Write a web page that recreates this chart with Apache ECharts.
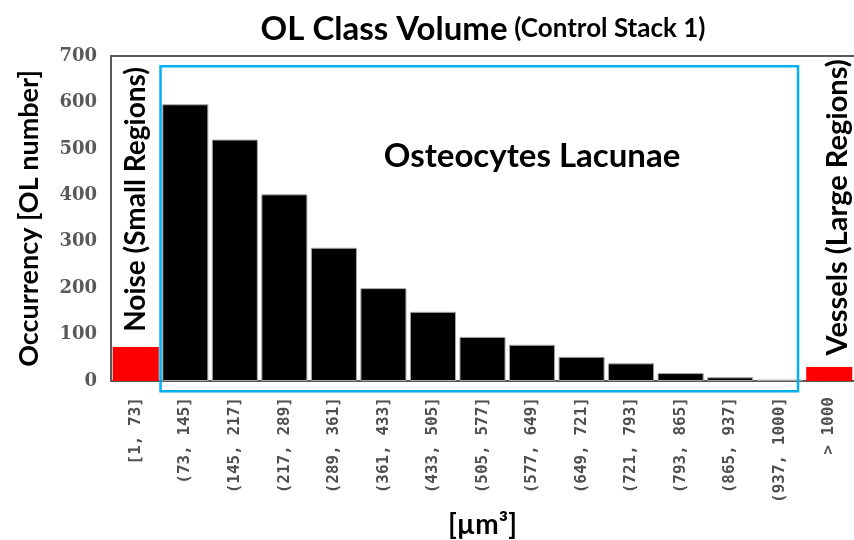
<!DOCTYPE html>
<html><head><meta charset="utf-8">
<script src="https://cdn.jsdelivr.net/npm/echarts@6/dist/echarts.min.js"></script>
<style>html,body{margin:0;padding:0;background:#fff}#c{width:854px;height:540px}</style>
</head><body><div id="c"></div>
<script>
const categories = ['[1, 73]', '(73, 145]', '(145, 217]', '(217, 289]', '(289, 361]', '(361, 433]',
  '(433, 505]', '(505, 577]', '(577, 649]', '(649, 721]', '(721, 793]', '(793, 865]',
  '(865, 937]', '(937, 1000]', '> 1000'];
const noiseCounts = [73];
const lacunaeCounts = [596, 520, 402, 287, 200, 149, 95, 78, 52, 38, 17, 8, 3];
const vesselCounts = [30];
const yTicks = [0, 100, 200, 300, 400, 500, 600, 700];

const titleMain = 'OL Class Volume';
const titleSub = '(Control Stack 1)';
const noiseLabel = 'Noise (Small Regions)';
const vesselLabel = 'Vessels (Large Regions)';
const lacunaeLabel = 'Osteocytes Lacunae';

const FONT = 'Lato';
const chart = echarts.init(document.getElementById('c'), null, { renderer: 'canvas' });

const red = { color: '#FF0000', borderWidth: 0 };
const blk = { color: '#000000', borderColor: '#a6a6a6', borderWidth: 1 };
const barData = [];
noiseCounts.forEach(v => barData.push({ value: v, itemStyle: red }));
lacunaeCounts.forEach(v => barData.push({ value: v, itemStyle: blk }));
vesselCounts.forEach(v => barData.push({ value: v, itemStyle: red }));

const axisLineStyle = { color: '#595959', width: 2 };

chart.setOption({
  animation: false,
  grid: { left: 111, right: 0, top: 56, bottom: 159, containLabel: false, outerBoundsMode: 'none' },
  xAxis: [{
    type: 'category', data: categories,
    axisLine: { lineStyle: axisLineStyle }, axisTick: { show: false },
    axisLabel: { rotate: 90, interval: 0, margin: 16, color: '#505050',
      fontFamily: 'DejaVu Sans Mono', fontWeight: 'bold', fontSize: 16 },
    name: '[µm³]', nameLocation: 'middle', nameGap: 124,
    nameTextStyle: { fontFamily: FONT, fontWeight: 'bold', fontSize: 28, color: '#000' }
  }, {
    type: 'category', data: categories, position: 'top',
    axisLine: { lineStyle: axisLineStyle }, axisTick: { show: false }, axisLabel: { show: false }
  }],
  yAxis: {
    type: 'value', min: yTicks[0], max: yTicks[yTicks.length - 1], interval: 100,
    axisLine: { show: true, lineStyle: axisLineStyle }, axisTick: { show: false },
    splitLine: { show: false },
    axisLabel: { margin: 14, color: '#595959', fontFamily: 'DejaVu Serif', fontWeight: 'bold', fontSize: 18 },
    name: 'Occurrency [OL number]', nameLocation: 'middle', nameGap: 68,
    nameTextStyle: { fontFamily: FONT, fontWeight: 'bold', fontSize: 27, color: '#000' }
  },
  series: [{
    type: 'bar', data: barData, barCategoryGap: '7%', xAxisIndex: 0, yAxisIndex: 0
  }]
});

function px(cat, val) {
  return chart.convertToPixel({ xAxisIndex: 0, yAxisIndex: 0 }, [cat, val]);
}
const c0 = px(categories[0], 0), c1 = px(categories[1], 0);
const bandW = c1[0] - c0[0];
const rectL = (c0[0] + c1[0]) / 2;
const rectR = px(categories[13], 0)[0] + bandW * 0.37;
const rectT = px(categories[0], 678)[1];
const rectB = px(categories[0], -22)[1];
const noisePos = px(categories[0], 391);
const vesselPos = px(categories[14], 374);
const lacPos = px(categories[8], 484);

chart.setOption({
  graphic: [
    { type: 'text', x: 483, y: 29, style: {
        text: '{a|' + titleMain + '}  {b|' + titleSub + '}', align: 'center', verticalAlign: 'middle',
        rich: { a: { fontFamily: FONT, fontWeight: 'bold', fontSize: 33, fill: '#000' },
                b: { fontFamily: FONT, fontWeight: 'bold', fontSize: 26, fill: '#000' } } } },
    { type: 'rect', shape: { x: rectL, y: rectT, width: rectR - rectL, height: rectB - rectT },
      style: { fill: 'none', stroke: '#00B0F0', lineWidth: 2.5 }, z: 10 },
    { type: 'text', x: noisePos[0], y: noisePos[1], rotation: Math.PI / 2, style: {
        text: noiseLabel, align: 'center', verticalAlign: 'middle',
        fontFamily: FONT, fontWeight: 'bold', fontSize: 28, fill: '#000' }, z: 11 },
    { type: 'text', x: vesselPos[0] + 8, y: vesselPos[1], rotation: Math.PI / 2, style: {
        text: vesselLabel, align: 'center', verticalAlign: 'middle',
        fontFamily: FONT, fontWeight: 'bold', fontSize: 29, fill: '#000' }, z: 11 },
    { type: 'text', x: lacPos[0], y: lacPos[1], style: {
        text: lacunaeLabel, align: 'center', verticalAlign: 'middle',
        fontFamily: FONT, fontWeight: 'bold', fontSize: 33, fill: '#000' }, z: 11 }
  ]
});
</script></body></html>
